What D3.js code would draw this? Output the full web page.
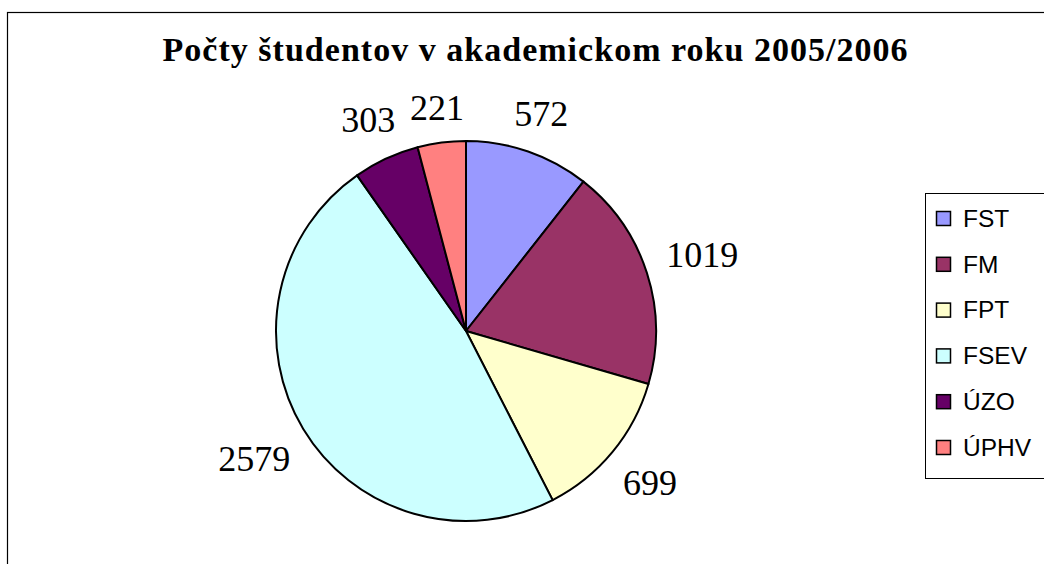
<!DOCTYPE html>
<html>
<head>
<meta charset="utf-8">
<script src="https://cdn.jsdelivr.net/npm/d3@7"></script>
<style>
  body { margin: 0; background: #fff; }
</style>
</head>
<body>
<script>
const faculties = ['FST', 'FM', 'FPT', 'FSEV', 'ÚZO', 'ÚPHV']
const students = [572, 1019, 699, 2579, 303, 221]
const colors = ['#9999ff', '#993366', '#ffffcc', '#ccffff', '#660066', '#ff8080']
const title = 'Počty študentov v akademickom roku 2005/2006'

var width = 1044, height = 564
var cx = 466, cy = 331, radius = 190

var svg = d3.select('body')
  .append('svg')
  .attr('width', width)
  .attr('height', height)

// chart frame (runs off the right and bottom edge)
svg.append('rect')
  .attr('x', 7.5).attr('y', 12.5)
  .attr('width', 1100).attr('height', 600)
  .attr('fill', 'none')
  .attr('stroke', '#000')
  .attr('stroke-width', 1.2)

svg.append('text')
  .attr('x', 535).attr('y', 61)
  .attr('text-anchor', 'middle')
  .attr('font-family', '"Liberation Serif", "Times New Roman", serif')
  .attr('font-weight', 'bold')
  .attr('font-size', 34)
  .attr('textLength', 745)
  .attr('lengthAdjust', 'spacing')
  .text(title)

var data = faculties.map(function (f, i) { return {name: f, value: students[i], color: colors[i]} })

var pie = d3.pie().sort(null).value(function (d) { return d.value })
var arcs = pie(data)

var arc = d3.arc().innerRadius(0).outerRadius(radius)

var g = svg.append('g').attr('transform', 'translate(' + cx + ',' + cy + ')')

g.selectAll('path.slice')
  .data(arcs)
  .enter().append('path')
  .attr('class', 'slice')
  .attr('d', arc)
  .attr('fill', function (d) { return d.data.color })
  .attr('stroke', '#000')
  .attr('stroke-width', 2)
  .attr('stroke-linejoin', 'round')

// value labels outside the pie, pushed out by their box size
var fs = 36
function labelPos(d) {
  var a = (d.startAngle + d.endAngle) / 2
  var s = Math.sin(a), c = Math.cos(a)
  var w = String(d.data.value).length * fs * 0.5, h = fs * 0.68
  var dist = radius + 20 + Math.abs(s) * w / 2 + Math.abs(c) * h / 2
  return [s * dist, -c * dist]
}

g.selectAll('text.val')
  .data(arcs)
  .enter().append('text')
  .attr('class', 'val')
  .attr('transform', function (d) { return 'translate(' + labelPos(d) + ')' })
  .attr('text-anchor', 'middle')
  .attr('dy', '0.34em')
  .attr('font-family', '"Liberation Serif", "Times New Roman", serif')
  .attr('font-size', fs)
  .text(function (d) { return d.data.value })

// legend
var legend = svg.append('g')
legend.append('rect')
  .attr('x', 925.5).attr('y', 193.5)
  .attr('width', 200).attr('height', 285)
  .attr('fill', '#fff')
  .attr('stroke', '#000')
  .attr('stroke-width', 1)

var item = legend.selectAll('g.item')
  .data(data)
  .enter().append('g')
  .attr('class', 'item')
  .attr('transform', function (d, i) { return 'translate(936,' + (218 + i * 45.8) + ')' })

item.append('rect')
  .attr('x', 0.5).attr('y', -6.5)
  .attr('width', 14).attr('height', 14)
  .attr('fill', function (d) { return d.color })
  .attr('stroke', '#000')
  .attr('stroke-width', 1.5)

item.append('text')
  .attr('x', 27).attr('y', 0)
  .attr('dy', '0.36em')
  .attr('font-family', '"Liberation Sans", Arial, sans-serif')
  .attr('font-size', 24.5)
  .text(function (d) { return d.name })
</script>
</body>
</html>
